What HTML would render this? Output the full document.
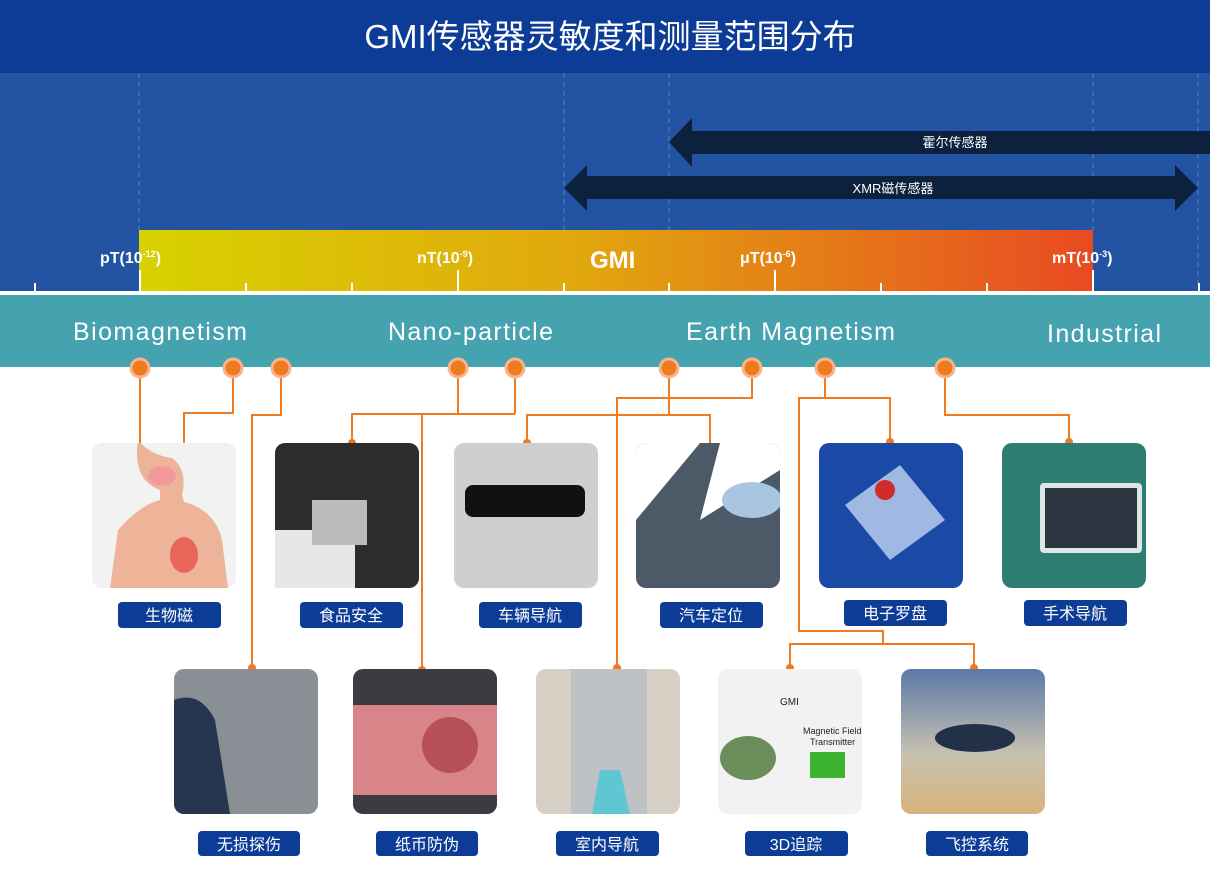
<!DOCTYPE html>
<html><head><meta charset="utf-8"><style>
body{margin:0;width:1210px;height:872px;overflow:hidden;background:#fff;font-family:"Liberation Sans","Noto Sans CJK SC",sans-serif}
svg text{font-family:"Liberation Sans","Noto Sans CJK SC",sans-serif}
</style></head><body>
<svg width="1210" height="872" viewBox="0 0 1210 872" xmlns="http://www.w3.org/2000/svg">
<defs>
<linearGradient id="g" x1="0" x2="1" y1="0" y2="0">
<stop offset="0" stop-color="#d8d200"/><stop offset="0.45" stop-color="#e1a90e"/><stop offset="1" stop-color="#e84a22"/></linearGradient>
<linearGradient id="sky" x1="0" x2="0" y1="0" y2="1"><stop offset="0" stop-color="#5b79a8"/><stop offset="0.6" stop-color="#c9c2b0"/><stop offset="1" stop-color="#d7b27a"/></linearGradient>
<clipPath id="c1"><rect x="92" y="443" width="144" height="145" rx="10"/></clipPath>
<clipPath id="c4"><rect x="636" y="443" width="144" height="145" rx="10"/></clipPath>
<clipPath id="c6"><rect x="1002" y="443" width="144" height="145" rx="10"/></clipPath>
<clipPath id="c7"><rect x="174" y="669" width="144" height="145" rx="10"/></clipPath>
</defs>
<rect x="0" y="0" width="1210" height="295" fill="#2254a3"/>
<rect x="0" y="0" width="1210" height="73" fill="#0c3c95"/>
<text x="610" y="48" fill="#fff" font-size="33" text-anchor="middle">GMI传感器灵敏度和测量范围分布</text>
<g stroke="#5a7fc0" stroke-width="1" stroke-dasharray="5,4">
<line x1="139" y1="73" x2="139" y2="230"/><line x1="564" y1="73" x2="564" y2="290"/><line x1="669" y1="73" x2="669" y2="290"/><line x1="1093" y1="73" x2="1093" y2="230"/><line x1="1198" y1="73" x2="1198" y2="290"/>
</g>
<polygon points="669,142 692,118 692,131 1210,131 1210,154 692,154 692,167" fill="#0c213d"/>
<text x="955" y="147" fill="#fff" font-size="13" text-anchor="middle">霍尔传感器</text>
<polygon points="564,188 587,165 587,176 1175,176 1175,165 1198,188 1175,211 1175,199 587,199 587,211" fill="#0c213d"/>
<text x="893" y="193" fill="#fff" font-size="13" text-anchor="middle">XMR磁传感器</text>
<rect x="139" y="230" width="954" height="62" fill="url(#g)"/>
<g fill="#fff" font-size="16" font-weight="bold">
<text x="100" y="263">pT(10<tspan font-size="9" dy="-6">-12</tspan><tspan dy="6">)</tspan></text>
<text x="417" y="263">nT(10<tspan font-size="9" dy="-6">-9</tspan><tspan dy="6">)</tspan></text>
<text x="740" y="263">μT(10<tspan font-size="9" dy="-6">-6</tspan><tspan dy="6">)</tspan></text>
<text x="1052" y="263">mT(10<tspan font-size="9" dy="-6">-3</tspan><tspan dy="6">)</tspan></text>
<text x="590" y="268" font-size="24">GMI</text>
</g>
<g stroke="#fff" stroke-width="2">
<line x1="35" y1="283" x2="35" y2="292"/><line x1="140" y1="270" x2="140" y2="292"/><line x1="246" y1="283" x2="246" y2="292"/><line x1="352" y1="283" x2="352" y2="292"/><line x1="458" y1="270" x2="458" y2="292"/><line x1="564" y1="283" x2="564" y2="292"/><line x1="669" y1="283" x2="669" y2="292"/><line x1="775" y1="270" x2="775" y2="292"/><line x1="881" y1="283" x2="881" y2="292"/><line x1="987" y1="283" x2="987" y2="292"/><line x1="1093" y1="270" x2="1093" y2="292"/><line x1="1199" y1="283" x2="1199" y2="292"/>
</g>
<rect x="0" y="291" width="1210" height="4" fill="#fff"/>
<rect x="0" y="295" width="1210" height="72" fill="#45a3b0"/>
<g fill="#fff" font-size="25">
<text x="73" y="340" textLength="174">Biomagnetism</text><text x="388" y="340" textLength="165">Nano-particle</text><text x="686" y="340" textLength="209">Earth Magnetism</text><text x="1047" y="342" textLength="114">Industrial</text>
</g>
<g stroke="#ee7a22" stroke-width="2" fill="none">
<polyline points="140,368 140,455 162,455 162,467"/>
<polyline points="233,368 233,413 184,413 184,545"/>
<polyline points="281,368 281,415 252,415 252,668"/>
<polyline points="458,368 458,414"/><polyline points="515,368 515,414"/>
<polyline points="352,443 352,414 515,414"/><line x1="422" y1="414" x2="422" y2="670"/>
<polyline points="669,368 669,415"/><polyline points="527,443 527,415 710,415 710,450"/>
<polyline points="752,368 752,398 617,398 617,668"/>
<polyline points="825,368 825,398"/><polyline points="890,442 890,398 799,398 799,631 883,631 883,644"/>
<polyline points="790,668 790,644 974,644 974,668"/>
<polyline points="945,368 945,415 1069,415 1069,442"/>
</g>
<g fill="#ee7a22" stroke="#f6b58a" stroke-width="3">
<circle cx="140" cy="368" r="9"/><circle cx="233" cy="368" r="9"/><circle cx="281" cy="368" r="9"/><circle cx="458" cy="368" r="9"/><circle cx="515" cy="368" r="9"/><circle cx="669" cy="368" r="9"/><circle cx="752" cy="368" r="9"/><circle cx="825" cy="368" r="9"/><circle cx="945" cy="368" r="9"/>
</g>
<g fill="#ee7a22">
<circle cx="162" cy="467" r="4"/><circle cx="184" cy="545" r="4"/><circle cx="352" cy="443" r="4"/><circle cx="527" cy="443" r="4"/><circle cx="710" cy="450" r="4"/><circle cx="890" cy="442" r="4"/><circle cx="1069" cy="442" r="4"/>
<circle cx="252" cy="668" r="4"/><circle cx="422" cy="670" r="4"/><circle cx="617" cy="668" r="4"/><circle cx="790" cy="668" r="4"/><circle cx="974" cy="668" r="4"/>
</g>
<!-- row1 cards -->
<rect x="92" y="443" width="144" height="145" rx="10" fill="#f2f2f2"/>
<g clip-path="url(#c1)">
<path d="M110 588 L118 530 Q140 505 160 500 L160 490 Q132 480 138 440 Q150 455 172 458 Q188 470 182 495 L184 502 Q215 510 222 540 L228 588Z" fill="#eeb49a"/>
<ellipse cx="162" cy="476" rx="14" ry="10" fill="#f29a9a"/><ellipse cx="184" cy="555" rx="14" ry="18" fill="#e8675a"/>
</g>
<rect x="275" y="443" width="144" height="145" rx="10" fill="#2a2c2e"/><rect x="275" y="530" width="80" height="58" fill="#e7e7ea"/><rect x="312" y="500" width="55" height="45" fill="#bbb"/>
<rect x="454" y="443" width="144" height="145" rx="10" fill="#cfcfcf"/><rect x="465" y="485" width="120" height="32" rx="8" fill="#111"/>
<rect x="636" y="443" width="144" height="145" rx="10" fill="#4c5a68"/>
<g clip-path="url(#c4)"><polygon points="636,443 700,443 636,520" fill="#fff"/><polygon points="720,443 780,443 780,470 700,520" fill="#fff"/><ellipse cx="752" cy="500" rx="30" ry="18" fill="#a9c6e0"/></g>
<rect x="819" y="443" width="144" height="145" rx="10" fill="#1a4aa6"/><polygon points="845,505 900,465 945,520 890,560" fill="#9fb9e3"/><circle cx="885" cy="490" r="10" fill="#d32a2a"/>
<rect x="1002" y="443" width="144" height="145" rx="10" fill="#2e7d73"/>
<g clip-path="url(#c6)"><rect x="1040" y="483" width="102" height="70" rx="4" fill="#dde6e6"/><rect x="1045" y="488" width="92" height="60" fill="#2c3440"/></g>
<!-- row2 cards -->
<rect x="174" y="669" width="144" height="145" rx="10" fill="#8a8f95"/>
<g clip-path="url(#c7)"><path d="M174 700 Q200 690 215 720 L230 814 L174 814Z" fill="#27364f"/></g>
<rect x="353" y="669" width="144" height="145" rx="10" fill="#3b3c40"/><rect x="353" y="705" width="144" height="90" fill="#d8858a"/><circle cx="450" cy="745" r="28" fill="#b85058"/>
<rect x="536" y="669" width="144" height="145" rx="10" fill="#d6d0c4"/><rect x="571" y="669" width="76" height="145" fill="#bfc2c4"/><polygon points="600,770 620,770 630,814 592,814" fill="#5ec7d2"/>
<rect x="718" y="669" width="144" height="145" rx="10" fill="#f2f2f2"/><ellipse cx="748" cy="758" rx="28" ry="22" fill="#6b8d5a"/><rect x="810" y="752" width="35" height="26" fill="#3cb432"/>
<text x="780" y="705" font-size="10" fill="#222">GMI</text><text x="803" y="734" font-size="9" fill="#222">Magnetic Field</text><text x="810" y="745" font-size="9" fill="#222">Transmitter</text>
<rect x="901" y="669" width="144" height="145" rx="10" fill="url(#sky)"/><ellipse cx="975" cy="738" rx="40" ry="14" fill="#223048"/>
<g fill="#0c3c95">
<rect x="118" y="602" width="103" height="26" rx="4"/><rect x="300" y="602" width="103" height="26" rx="4"/><rect x="479" y="602" width="103" height="26" rx="4"/><rect x="660" y="602" width="103" height="26" rx="4"/><rect x="844" y="600" width="103" height="26" rx="4"/><rect x="1024" y="600" width="103" height="26" rx="4"/>
<rect x="198" y="831" width="102" height="25" rx="4"/><rect x="376" y="831" width="102" height="25" rx="4"/><rect x="556" y="831" width="103" height="25" rx="4"/><rect x="745" y="831" width="103" height="25" rx="4"/><rect x="926" y="831" width="102" height="25" rx="4"/>
</g>
<g fill="#fff" font-size="16" text-anchor="middle">
<text x="169" y="621">生物磁</text><text x="351" y="621">食品安全</text><text x="530" y="621">车辆导航</text><text x="711" y="621">汽车定位</text><text x="895" y="619">电子罗盘</text><text x="1075" y="619">手术导航</text>
<text x="249" y="850">无损探伤</text><text x="427" y="850">纸币防伪</text><text x="607" y="850">室内导航</text><text x="796" y="850">3D追踪</text><text x="977" y="850">飞控系统</text>
</g>
</svg>
</body></html>
